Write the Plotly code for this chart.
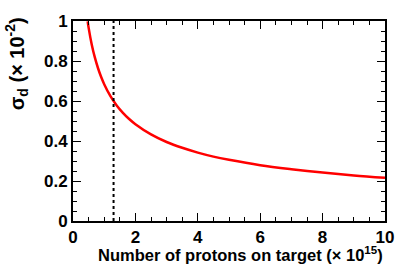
import plotly.graph_objects as go

# Data
n_protons = [0.47, 0.5, 0.6, 0.7, 0.8, 0.9, 1.0, 1.2, 1.4, 1.6, 1.8, 2.0, 2.5,
             3.0, 3.5, 4.0, 4.5, 5.0, 6.0, 7.0, 8.0, 9.0, 10.0]
sigma_d = [0.998, 0.967, 0.883, 0.818, 0.765, 0.721, 0.684, 0.624, 0.578, 0.541,
           0.510, 0.484, 0.433, 0.395, 0.366, 0.342, 0.322, 0.306, 0.279, 0.259,
           0.242, 0.228, 0.216]
marker_x = [1.3, 1.3]
marker_y = [0.0, 1.0]

FONT = "Liberation Sans"

fig = go.Figure()
fig.add_trace(go.Scatter(x=n_protons, y=sigma_d, mode="lines", line_shape="spline",
                         line=dict(color="#ff0000", width=2.5), showlegend=False))
fig.add_trace(go.Scatter(x=marker_x, y=marker_y, mode="lines",
                         line=dict(color="black", width=2, dash="dot"), showlegend=False))

axis_common = dict(showgrid=False, zeroline=False, showline=True, linecolor="black",
                   linewidth=1.8, mirror="ticks", ticks="inside", ticklen=8,
                   tickwidth=1.2, tickcolor="black",
                   tickfont=dict(family=FONT, size=17, color="black", weight="bold"))

fig.update_xaxes(range=[0, 10], dtick=2, tick0=0,
                 minor=dict(ticks="inside", dtick=0.5, ticklen=4, tickwidth=1.2, tickcolor="black"),
                 **axis_common)
fig.update_yaxes(range=[0, 1], dtick=0.2, tick0=0, tickformat="~g",
                 minor=dict(ticks="inside", dtick=0.05, ticklen=4, tickwidth=1.2, tickcolor="black"),
                 **axis_common)

fig.add_annotation(text="Number of protons on target (× 10<sup>15</sup>)", xref="paper", yref="paper",
                   x=1.0, y=-0.165, xanchor="right", yanchor="middle", showarrow=False,
                   font=dict(family=FONT, size=16.5, color="black", weight="bold"))
fig.add_annotation(text="σ<sub>d</sub> (× 10<sup>-2</sup>)", xref="paper", yref="paper",
                   x=-0.18, y=1.03, xanchor="center", yanchor="top", textangle=-90, showarrow=False,
                   font=dict(family=FONT, size=20, color="black", weight="bold"))

fig.update_layout(width=407, height=277, margin=dict(l=73, r=22, t=14, b=56),
                  plot_bgcolor="white", paper_bgcolor="white")

fig.write_html("out.html", config={"displayModeBar": False},
               post_script="document.body.style.margin='0';")
